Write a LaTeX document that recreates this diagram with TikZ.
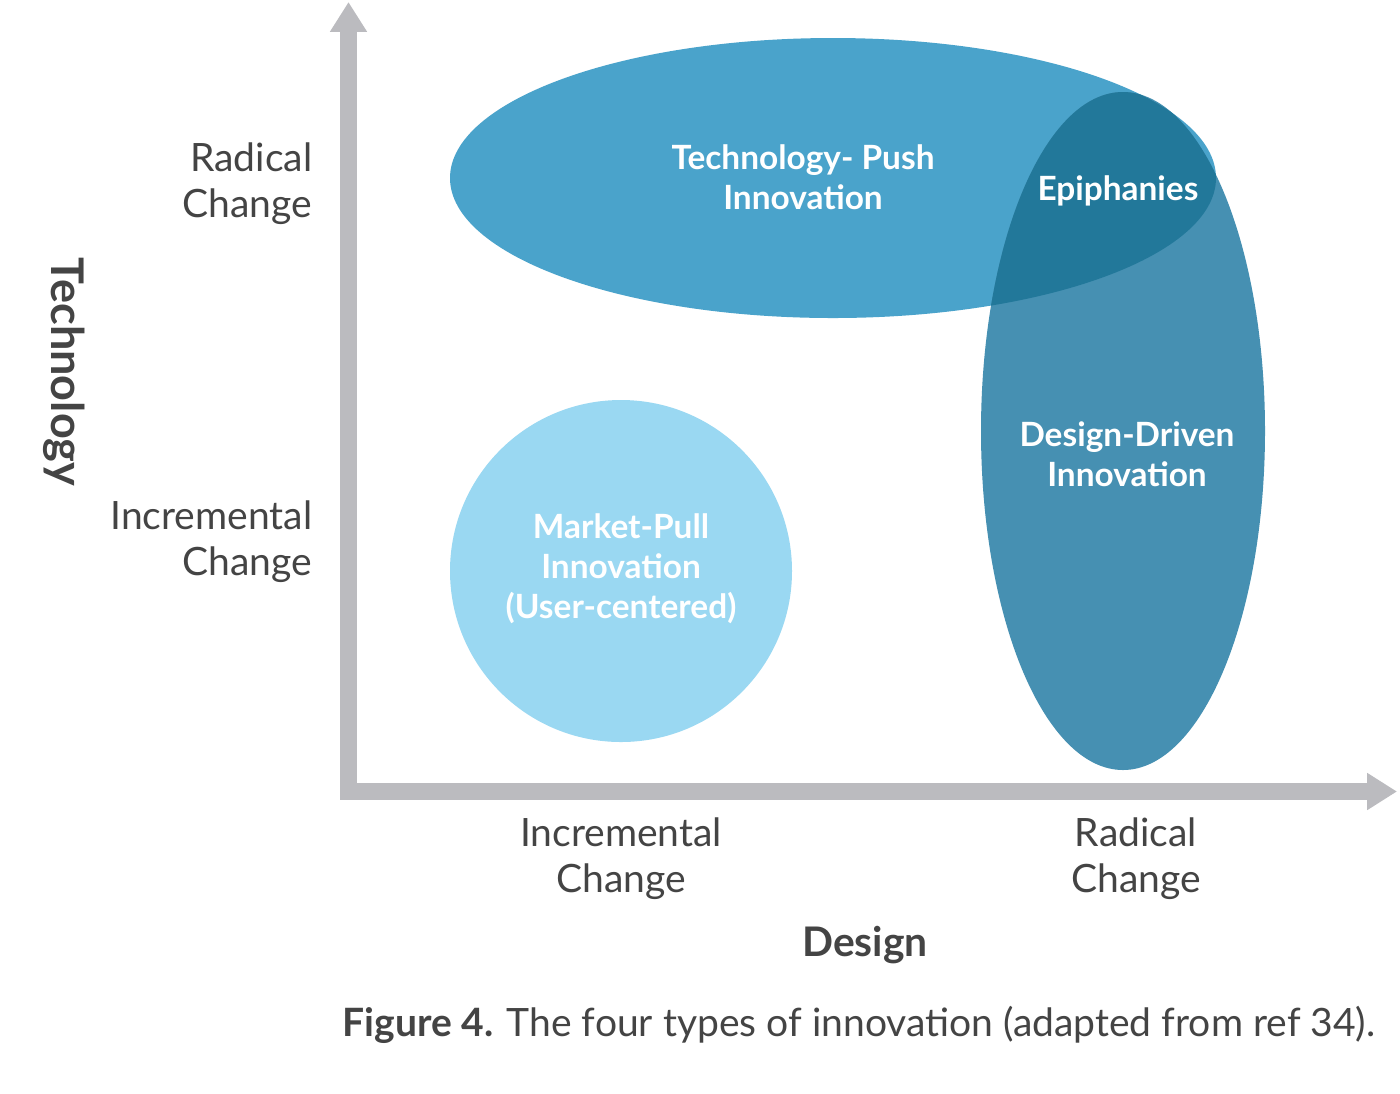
\documentclass[tikz,border=0pt]{standalone}
\usepackage{fontspec}
\setmainfont{Lato}
\usepackage{xcolor}
\usepackage{tikz}
\usetikzlibrary{arrows.meta,positioning}

\definecolor{axisgray}{HTML}{BBBBBF}
\definecolor{textgray}{HTML}{444444}
\definecolor{pushblue}{HTML}{4AA3CB}
\definecolor{drivenblue}{HTML}{4690B2}
\definecolor{epiblue}{HTML}{22789A}
\definecolor{pullblue}{HTML}{9AD8F2}

\begin{document}
\begin{tikzpicture}[x=0.01cm,y=-0.01cm]
	\tikzstyle{axis_style} = [draw=axisgray,line width=4.6pt,line join=miter,{Triangle[width=10pt,length=8.5pt]}-{Triangle[width=10pt,length=8.5pt]}]
	\tikzstyle{tick_style} = [text=textgray,font=\fontsize{11.1}{13}\selectfont,inner sep=0pt]
	\tikzstyle{title_style} = [text=textgray,font=\fontsize{11.6}{13}\selectfont\bfseries,inner sep=0pt]
	\tikzstyle{blob_label} = [text=white,font=\fontsize{9.5}{11.4}\selectfont\bfseries,align=center,inner sep=0pt]
	    \useasboundingbox (0,0) rectangle (1400,1093);
	    \fill[white] (0,0) rectangle (1400,1093);
	    % blobs
	    \fill[pullblue] (621,571) circle (171);
	    \fill[pushblue] (833,178) ellipse [x radius=383,y radius=140];
	    \fill[drivenblue] (1123,431) ellipse [x radius=142,y radius=339];
	    \begin{scope}
	        \clip (833,178) ellipse [x radius=383,y radius=140];
	        \fill[epiblue] (1123,431) ellipse [x radius=142,y radius=339];
	    \end{scope}
	    % axes
	    \coordinate (ytip) at (348.5,2);
	    \coordinate (origin) at (348.5,791.5);
	    \coordinate (xtip) at (1397,791.5);
	    \draw[axis_style] (ytip) -- (origin) -- (xtip);
	    % labels
	    \node[tick_style,align=right,anchor=east] (yrad) at (313,184) {Radical\\Change};
	    \node[tick_style,align=right,anchor=east] (yinc) at (313,542) {Incremental\\Change};
	    \node[tick_style,align=center] (xinc) at (621,859) {Incremental\\Change};
	    \node[tick_style,align=center] (xrad) at (1136,859) {Radical\\Change};
	    \node[title_style,rotate=-90,font=\fontsize{12.8}{13}\selectfont\bfseries] (ytitle) at (64,372) {Technology};
	    \node[title_style] (xtitle) at (865,945) {Design};
	    \node[blob_label] (push) at (803,177) {Technology- Push\\Innovation};
	    \node[blob_label] (epi) at (1118,191) {Epiphanies};
	    \node[blob_label] (driven) at (1127,454) {Design-Driven\\Innovation};
	    \node[blob_label] (pull) at (621,569) {Market-Pull\\Innovation\\(User-centered)};
	    \node[tick_style,anchor=west] (caption) at (342,1025) {\textbf{Figure 4.} The four types of innovation (adapted from ref 34).};
\end{tikzpicture}
\end{document}
